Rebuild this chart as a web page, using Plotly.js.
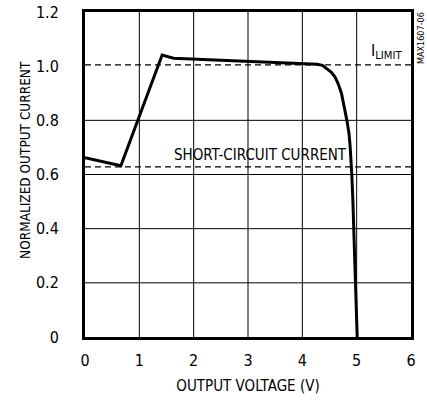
<!DOCTYPE html>
<html><head><meta charset="utf-8">
<script src="https://cdn.plot.ly/plotly-3.0.1.min.js"></script>
<style>html,body{margin:0;padding:0;background:#fff}#chart{width:427px;height:402px}</style>
</head><body><div id="chart"></div>
<script>
// Output voltage (V) and normalized output current
const voltage = [0, 0.66, 1.42, 1.63, 2.5, 3.5, 4.27, 4.37, 4.45, 4.53, 4.60, 4.66, 4.72, 4.77, 4.82, 4.86, 4.88, 4.91, 4.93, 4.97, 5.01];
const current = [0.662, 0.632, 1.041, 1.029, 1.022, 1.014, 1.007, 1.003, 0.992, 0.978, 0.961, 0.935, 0.90, 0.855, 0.80, 0.75, 0.703, 0.60, 0.506, 0.25, 0];
const iLimit = 1.005;
const shortCircuit = 0.628;
const xTicks = [0, 1, 2, 3, 4, 5, 6];
const yTicks = [0, 0.2, 0.4, 0.6, 0.8, 1.0, 1.2];
const yTickText = ['0', '0.2', '0.4', '0.6', '0.8', '1.0', '1.2'];
const gridX = [1, 2, 3, 4, 5];
const gridY = [0.2, 0.4, 0.6, 0.8];

const FAM = '"DejaVu Sans Condensed", "Liberation Sans Narrow", "Liberation Sans", sans-serif';
const f = (size) => ({family:FAM, size:size, color:'#000'});

const shapes = [];
gridX.forEach(v => shapes.push({type:'line', xref:'x', yref:'paper', x0:v, x1:v, y0:0, y1:1, line:{color:'#000', width:1}, layer:'below'}));
gridY.forEach(v => shapes.push({type:'line', xref:'paper', yref:'y', x0:0, x1:1, y0:v, y1:v, line:{color:'#000', width:1}, layer:'below'}));

const traces = [
  {x:[0, 6], y:[iLimit, iLimit], mode:'lines', line:{color:'#000', width:1.2, dash:'6px,4px'}, hoverinfo:'skip'},
  {x:[0, 6], y:[shortCircuit, shortCircuit], mode:'lines', line:{color:'#000', width:1.2, dash:'6px,4px'}, hoverinfo:'skip'},
  {x:voltage, y:current, mode:'lines', line:{color:'#000', width:3}}
];

const layout = {
  width:427, height:402,
  margin:{l:85, r:16, t:12, b:65},
  paper_bgcolor:'#fff', plot_bgcolor:'#fff',
  showlegend:false,
  font:f(15),
  xaxis:{range:[0,6], tickvals:xTicks, showgrid:false, zeroline:false,
    showline:true, linewidth:3, linecolor:'#000', mirror:true,
    ticks:'outside', ticklen:7, tickcolor:'rgba(0,0,0,0)',
    tickfont:f(16),
    title:{text:'OUTPUT VOLTAGE (V)', font:f(15), standoff:12}},
  yaxis:{range:[0,1.2], tickvals:yTicks, ticktext:yTickText, showgrid:false, zeroline:false,
    showline:true, linewidth:3, linecolor:'#000', mirror:true,
    ticks:'outside', ticklen:20, tickcolor:'rgba(0,0,0,0)',
    tickfont:f(16)},
  shapes:shapes,
  annotations:[
    {x:0, xref:'paper', y:0.545, yref:'paper', text:'NORMALIZED OUTPUT CURRENT', textangle:-90, showarrow:false,
      xanchor:'center', yanchor:'middle', font:f(13.5)},
    {x:5.88, y:iLimit, xref:'x', yref:'y', text:'I<sub>LIMIT</sub>', showarrow:false, xanchor:'right', yanchor:'bottom', yshift:1, font:f(16)},
    {x:4.86, y:shortCircuit, xref:'x', yref:'y', text:'SHORT-CIRCUIT CURRENT', showarrow:false, xanchor:'right', yanchor:'bottom', yshift:1, font:f(15)},
    {x:1, y:1, xref:'paper', yref:'paper', xshift:10, yshift:2, text:'MAX1607-06', textangle:-90, showarrow:false, xanchor:'center', yanchor:'top', font:f(9)}
  ]
};
// y title annotation placed 25px from the left edge of the figure
layout.annotations[0].x = (25 - layout.margin.l) / (layout.width - layout.margin.l - layout.margin.r);
Plotly.newPlot('chart', traces, layout, {staticPlot:true});
</script></body></html>
